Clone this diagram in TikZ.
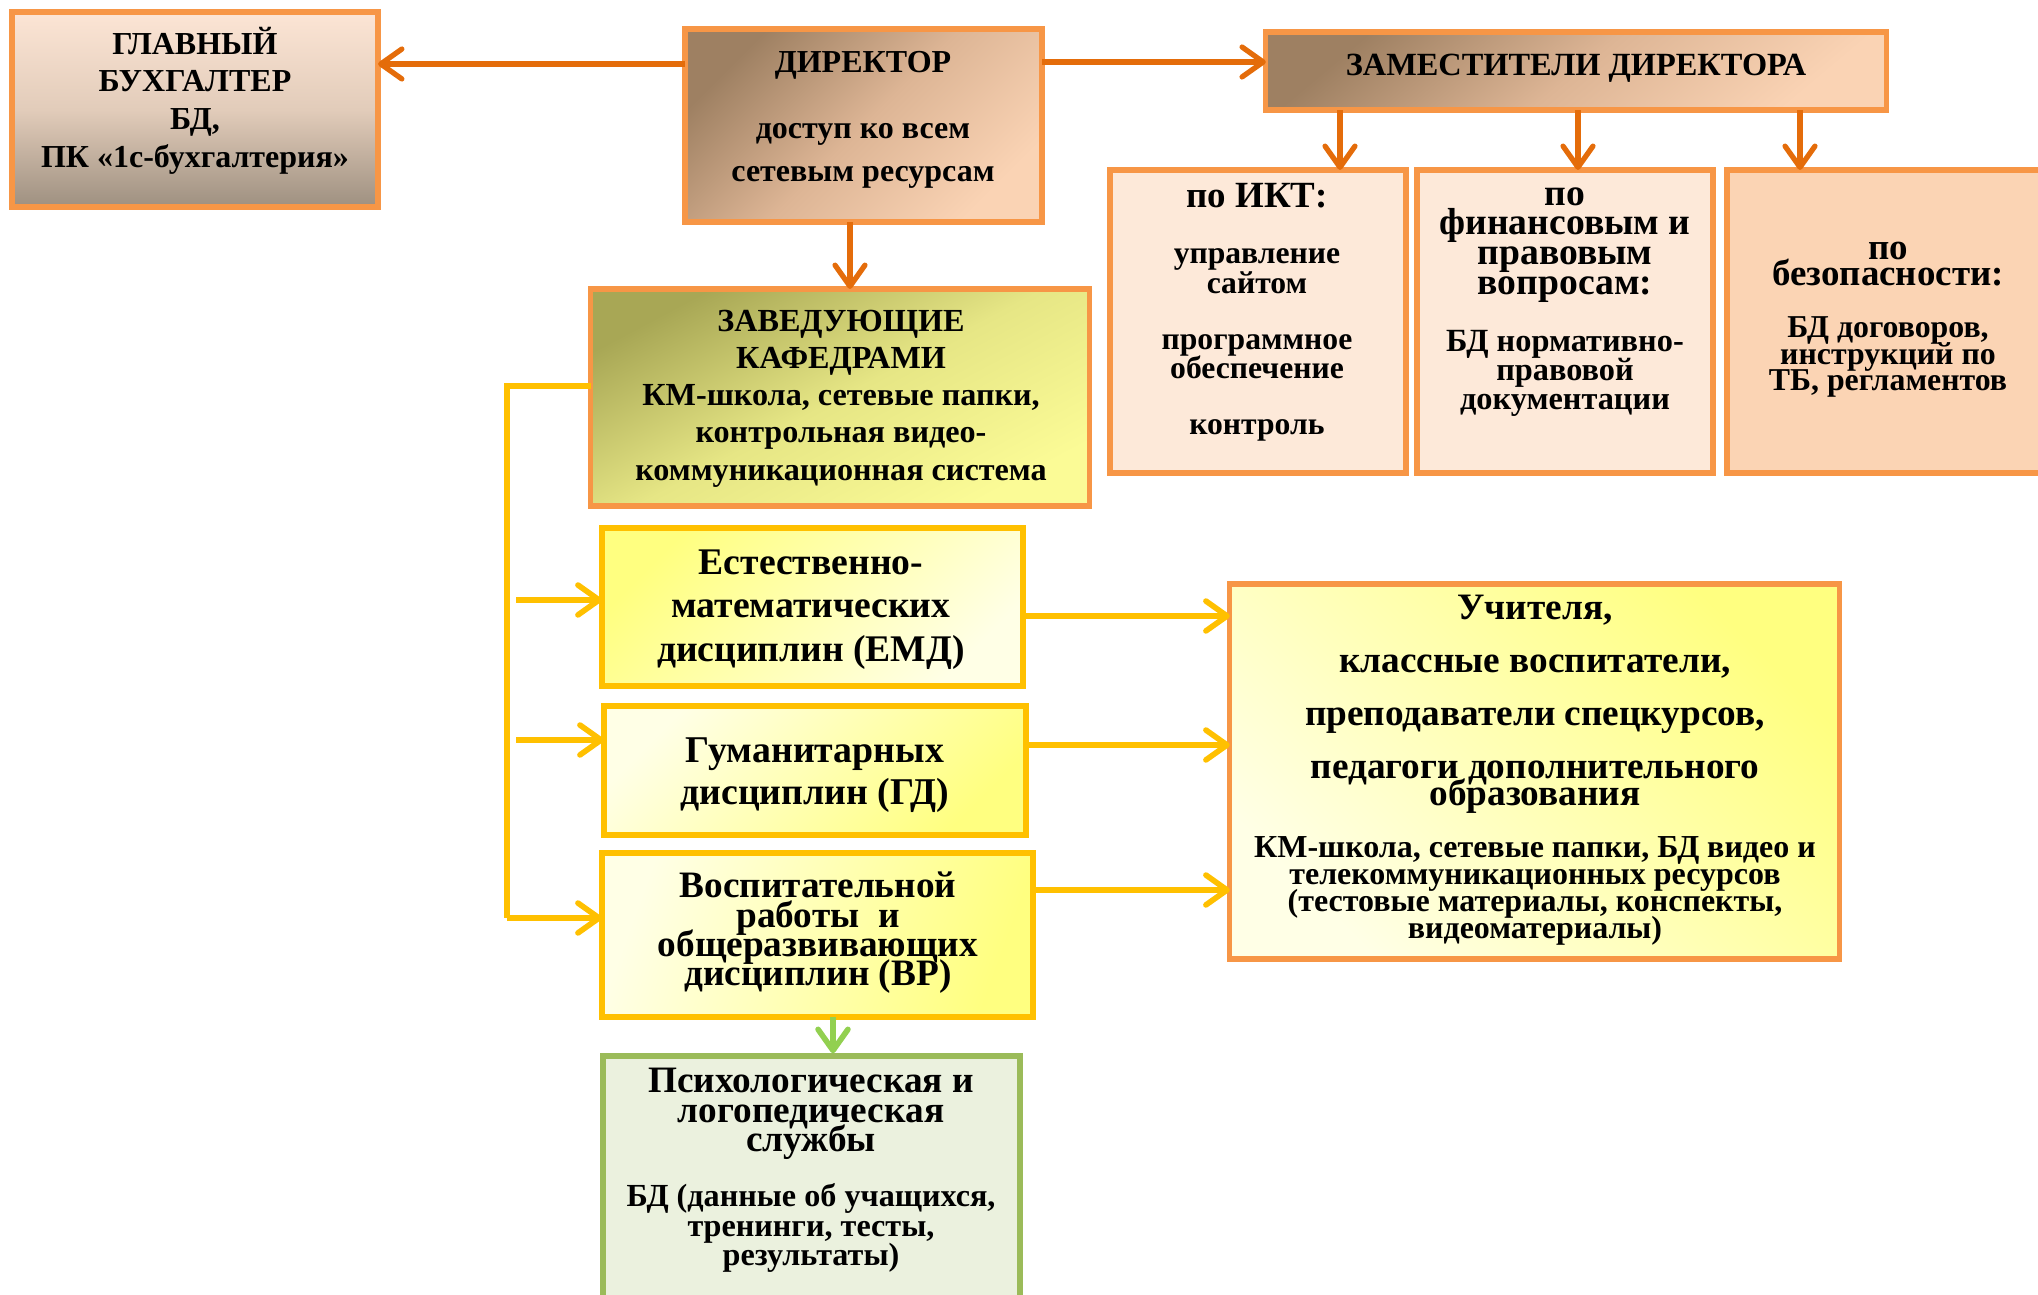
\documentclass[tikz,border=0pt]{standalone}
\usepackage{fontspec}
\setmainfont{Liberation Serif}
\usetikzlibrary{arrows.meta}
\definecolor{bordO}{HTML}{F79646}
\definecolor{arrO}{HTML}{E46C0A}
\definecolor{yel}{HTML}{FFC000}
\definecolor{grB}{HTML}{9BBB59}
\definecolor{grF}{HTML}{EBF1DE}
\definecolor{grA}{HTML}{92D050}
\definecolor{peachA}{HTML}{FDE9D9}
\definecolor{peachB}{HTML}{FBD4B4}
\definecolor{brownD}{HTML}{9E8062}
\definecolor{brownM}{HTML}{DDB595}
\definecolor{peachL}{HTML}{FAD3B4}
\definecolor{gbTop}{HTML}{FCE5D5}
\definecolor{gbMid}{HTML}{E2CCBA}
\definecolor{gbBot}{HTML}{9E9080}
\definecolor{olive}{HTML}{A8A755}
\definecolor{oliveM}{HTML}{E6E685}
\definecolor{yelL}{HTML}{FBFB96}
\definecolor{yelS}{HTML}{FFFF80}
\definecolor{yelP}{HTML}{FFFFE6}
\newcommand\fsz[2]{\fontsize{#1}{#2}\selectfont\lineskiplimit=-50pt\relax}
\tikzset{
  box/.style={draw=bordO, line width=1.5pt, inner sep=0pt, outer sep=0pt},
  ybox/.style={draw=yel, line width=1.5pt, inner sep=0pt, outer sep=0pt},
  txt/.style={align=center, inner sep=0pt, outer sep=0pt},
  oarr/.style={draw=arrO, line width=1.5pt, -{Straight Barb[length=6pt,width=8.5pt,round]}},
  yline/.style={draw=yel, line width=1.6pt},
  yarr/.style={draw=yel, line width=1.6pt, -{Straight Barb[length=6pt,width=8.5pt,round]}},
  garr/.style={draw=grA, line width=1.6pt, -{Straight Barb[length=6pt,width=8.5pt,round]}},
}
\begin{document}
\begin{tikzpicture}[x=0.01cm, y=-0.01cm]
\useasboundingbox (0,0) rectangle (2038,1295);
% boxes
\node[box, top color=gbTop, bottom color=gbBot, middle color=gbMid, minimum width=3.66cm, minimum height=1.95cm] (gb) at (195,109.5) {};
\node[box, left color=brownD, right color=peachL, middle color=brownM, shading angle=45, minimum width=3.57cm, minimum height=1.93cm] (dir) at (863.5,125.5) {};
\node[box, left color=brownD, right color=peachL, middle color=brownM, shading angle=40, minimum width=6.2cm, minimum height=0.78cm] (zam) at (1576,71) {};
\node[box, fill=peachA, minimum width=2.96cm, minimum height=3.03cm] (ikt) at (1258,321.5) {};
\node[box, fill=peachA, minimum width=2.96cm, minimum height=3.03cm] (fin) at (1565,321.5) {};
\node[box, fill=peachB, minimum width=3.24cm, minimum height=3.03cm] (bez) at (1889,321.5) {};
\node[box, left color=olive, right color=yelL, middle color=oliveM, shading angle=28, minimum width=4.98cm, minimum height=2.17cm] (zav) at (840,397.5) {};
\node[ybox, left color=yelS, right color=yelP, shading angle=45, minimum width=4.21cm, minimum height=1.58cm] (emd) at (812.5,607) {};
\node[ybox, left color=yelP, right color=yelS, shading angle=45, minimum width=4.22cm, minimum height=1.29cm] (gd) at (815,770.5) {};
\node[ybox, left color=yelP, right color=yelS, shading angle=70, minimum width=4.31cm, minimum height=1.64cm] (vr) at (817.5,935) {};
\node[box, left color=yelP, right color=yelS, shading angle=135, minimum width=6.09cm, minimum height=3.75cm] (uch) at (1534.5,771.5) {};
\node[draw=grB, line width=1.5pt, fill=grF, inner sep=0pt, minimum width=4.17cm, minimum height=2.6cm] (psy) at (811.5,1186) {};
% texts
\node[txt, font=\fsz{9.1pt}{10.7pt}\bfseries] (gbt) at (195,100.5) {ГЛАВНЫЙ\\БУХГАЛТЕР\\БД,\\ПК «1с-бухгалтерия»};
\node[txt, font=\fsz{9.1pt}{12pt}\bfseries] (dirt1) at (863,65) {ДИРЕКТОР};
\node[txt, font=\fsz{9.1pt}{12pt}\bfseries] (dirt2) at (863,156) {доступ ко всем\\сетевым ресурсам};
\node[txt, font=\fsz{9.2pt}{12pt}\bfseries] (zamt) at (1576,68) {ЗАМЕСТИТЕЛИ ДИРЕКТОРА};
\node[txt, font=\fsz{10.5pt}{12pt}\bfseries] (iktt1) at (1257,196) {по ИКТ:};
\node[txt, font=\fsz{9pt}{8.5pt}\bfseries] (iktt2) at (1257,345) {управление\\сайтом\\[7.4pt]программное\\обеспечение\\[7.4pt]контроль};
\node[txt, font=\fsz{10.7pt}{8.45pt}\bfseries] (fint1) at (1565,245) {по\\финансовым и\\правовым\\вопросам:};
\node[txt, font=\fsz{9.2pt}{8.25pt}\bfseries] (fint2) at (1565,373) {БД нормативно-\\правовой\\документации};
\node[txt, font=\fsz{10.5pt}{7.5pt}\bfseries] (bezt1) at (1888,264) {по\\безопасности:};
\node[txt, font=\fsz{9.05pt}{7.6pt}\bfseries] (bezt2) at (1888,357) {БД договоров,\\инструкций по\\ТБ, регламентов};
\node[txt, font=\fsz{9.15pt}{10.6pt}\bfseries] (zavt) at (841,398.5) {ЗАВЕДУЮЩИЕ\\КАФЕДРАМИ\\КМ-школа, сетевые папки,\\контрольная видео-\\коммуникационная система};
\node[txt, font=\fsz{10.7pt}{12.4pt}\bfseries] (emdt) at (811,609.5) {Естественно-\\математических\\дисциплин (ЕМД)};
\node[txt, font=\fsz{10.75pt}{12pt}\bfseries] (gdt) at (815,775) {Гуманитарных\\дисциплин (ГД)};
\node[txt, font=\fsz{10.6pt}{8.35pt}\bfseries] (vrt) at (818,933) {Воспитательной\\работы~~и\\общеразвивающих\\дисциплин (ВР)};
\node[txt, font=\fsz{10.6pt}{7.7pt}\bfseries] (ucht1) at (1535,704) {Учителя,\\[7.4pt]классные воспитатели,\\[7.4pt]преподаватели спецкурсов,\\[7.4pt]педагоги дополнительного\\образования};
\node[txt, font=\fsz{9.1pt}{7.6pt}\bfseries] (ucht2) at (1535,891) {КМ-школа, сетевые папки, БД видео и\\телекоммуникационных ресурсов\\(тестовые материалы, конспекты,\\видеоматериалы)};
\node[txt, font=\fsz{10.6pt}{8.4pt}\bfseries] (psyt1) at (811,1114) {Психологическая и\\логопедическая\\службы};
\node[txt, font=\fsz{9.15pt}{8.4pt}\bfseries] (psyt2) at (811,1228) {БД (данные об учащихся,\\тренинги, тесты,\\результаты)};
% connector levels
\coordinate (lvA) at (0,64);
\coordinate (lvB) at (0,62);
\coordinate (cx1) at (850,0);
\coordinate (zx1) at (1340,0);
\coordinate (zx2) at (1578,0);
\coordinate (zx3) at (1800,0);
\coordinate (bt) at (507,386);
\coordinate (bb) at (507,918);
\coordinate (br1) at (516,600);
\coordinate (br2) at (516,740);
\coordinate (hy1) at (0,616);
\coordinate (hy2) at (0,745);
\coordinate (hy3) at (0,890);
\coordinate (gx) at (833,0);
% orange arrows
\draw[oarr] (dir.west |- lvA) -- (gb.east |- lvA);
\draw[oarr] (dir.east |- lvB) -- (zam.west |- lvB);
\draw[oarr] (cx1 |- dir.south) -- (cx1 |- zav.north);
\draw[oarr] (zx1 |- zam.south) -- (zx1 |- ikt.north);
\draw[oarr] (zx2 |- zam.south) -- (zx2 |- fin.north);
\draw[oarr] (zx3 |- zam.south) -- (zx3 |- bez.north);
% yellow bracket
\draw[yline] (zav.west |- bt) -- (bt) -- (bb);
\draw[yarr] (bb) -- (vr.west |- bb);
\draw[yarr] (br1) -- (emd.west |- br1);
\draw[yarr] (br2) -- (gd.west |- br2);
\draw[yarr] (emd.east |- hy1) -- (uch.west |- hy1);
\draw[yarr] (gd.east |- hy2) -- (uch.west |- hy2);
\draw[yarr] (vr.east |- hy3) -- (uch.west |- hy3);
% green arrow
\draw[garr] (gx |- vr.south) -- (gx |- psy.north);
\end{tikzpicture}
\end{document}
